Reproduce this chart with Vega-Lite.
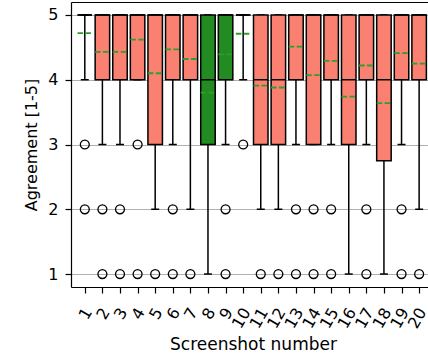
{
  "$schema": "https://vega.github.io/schema/vega-lite/v6.json",
  "width": 357,
  "height": 285,
  "autosize": {"type": "none"},
  "padding": {"left": 71, "top": 2, "right": 0, "bottom": 67},
  "config": {
    "view": {"stroke": null},
    "font": "DejaVu Sans",
    "axis": {
      "domainColor": "black",
      "domainWidth": 1.2,
      "tickColor": "black",
      "tickWidth": 1.2,
      "tickSize": 6,
      "labelColor": "black",
      "labelFont": "DejaVu Sans",
      "labelFontSize": 16,
      "labelOverlap": false,
      "labelFlush": false,
      "labelBound": false,
      "titleFont": "DejaVu Sans",
      "titleFontSize": 16,
      "titleFontWeight": "normal",
      "titleColor": "black",
      "gridColor": "#b0b0b0",
      "gridWidth": 1.2
    }
  },
  "datasets": {
    "boxes": [
      {"s": 1, "q1": 5, "q3": 5, "med": 5, "lo": 4, "hi": 5, "mean": 4.72, "grp": "other"},
      {"s": 2, "q1": 4, "q3": 5, "med": 5, "lo": 3, "hi": 5, "mean": 4.43, "grp": "other"},
      {"s": 3, "q1": 4, "q3": 5, "med": 5, "lo": 3, "hi": 5, "mean": 4.43, "grp": "other"},
      {"s": 4, "q1": 4, "q3": 5, "med": 5, "lo": 4, "hi": 5, "mean": 4.62, "grp": "other"},
      {"s": 5, "q1": 3, "q3": 5, "med": 5, "lo": 2, "hi": 5, "mean": 4.10, "grp": "other"},
      {"s": 6, "q1": 4, "q3": 5, "med": 5, "lo": 3, "hi": 5, "mean": 4.47, "grp": "other"},
      {"s": 7, "q1": 4, "q3": 5, "med": 5, "lo": 2, "hi": 5, "mean": 4.32, "grp": "other"},
      {"s": 8, "q1": 3, "q3": 5, "med": 4, "lo": 1, "hi": 5, "mean": 3.80, "grp": "green"},
      {"s": 9, "q1": 4, "q3": 5, "med": 5, "lo": 3, "hi": 5, "mean": 4.39, "grp": "green"},
      {"s": 10, "q1": 5, "q3": 5, "med": 5, "lo": 4, "hi": 5, "mean": 4.71, "grp": "other"},
      {"s": 11, "q1": 3, "q3": 5, "med": 4, "lo": 2, "hi": 5, "mean": 3.91, "grp": "other"},
      {"s": 12, "q1": 3, "q3": 5, "med": 4, "lo": 2, "hi": 5, "mean": 3.88, "grp": "other"},
      {"s": 13, "q1": 4, "q3": 5, "med": 5, "lo": 3, "hi": 5, "mean": 4.51, "grp": "other"},
      {"s": 14, "q1": 3, "q3": 5, "med": 5, "lo": 3, "hi": 5, "mean": 4.07, "grp": "other"},
      {"s": 15, "q1": 4, "q3": 5, "med": 5, "lo": 3, "hi": 5, "mean": 4.29, "grp": "other"},
      {"s": 16, "q1": 3, "q3": 5, "med": 4, "lo": 1, "hi": 5, "mean": 3.74, "grp": "other"},
      {"s": 17, "q1": 4, "q3": 5, "med": 5, "lo": 3, "hi": 5, "mean": 4.22, "grp": "other"},
      {"s": 18, "q1": 2.75, "q3": 5, "med": 4, "lo": 1, "hi": 5, "mean": 3.64, "grp": "other"},
      {"s": 19, "q1": 4, "q3": 5, "med": 5, "lo": 3, "hi": 5, "mean": 4.41, "grp": "other"},
      {"s": 20, "q1": 4, "q3": 5, "med": 5, "lo": 2, "hi": 5, "mean": 4.25, "grp": "other"}
    ],
    "outliers": [
      {"s": 1, "v": 3}, {"s": 1, "v": 2},
      {"s": 2, "v": 2}, {"s": 2, "v": 1},
      {"s": 3, "v": 2}, {"s": 3, "v": 1},
      {"s": 4, "v": 3}, {"s": 4, "v": 1},
      {"s": 5, "v": 1},
      {"s": 6, "v": 2}, {"s": 6, "v": 1},
      {"s": 7, "v": 1},
      {"s": 9, "v": 2}, {"s": 9, "v": 1},
      {"s": 10, "v": 3},
      {"s": 11, "v": 1},
      {"s": 12, "v": 1},
      {"s": 13, "v": 2}, {"s": 13, "v": 1},
      {"s": 14, "v": 2}, {"s": 14, "v": 1},
      {"s": 15, "v": 2}, {"s": 15, "v": 1},
      {"s": 17, "v": 2}, {"s": 17, "v": 1},
      {"s": 19, "v": 2}, {"s": 19, "v": 1},
      {"s": 20, "v": 1}
    ]
  },
  "layer": [
    {
      "data": {"name": "boxes"},
      "mark": {"type": "rule", "stroke": "black", "strokeWidth": 1.5, "clip": true},
      "encoding": {
        "x": {"field": "s", "type": "quantitative", "scale": {"domain": [0.5, 20.22], "nice": false, "zero": false},
              "axis": {"orient": "top", "labels": false, "ticks": false, "grid": false, "domain": true, "title": null}},
        "y": {"field": "lo", "type": "quantitative", "scale": {"domain": [0.8, 5.2], "nice": false, "zero": false},
              "axis": {"values": [1, 2, 3, 4, 5], "format": "d", "grid": true, "labelPadding": 7, "title": "Agreement [1-5]", "titlePadding": 8}},
        "y2": {"field": "q1"}
      }
    },
    {
      "data": {"name": "boxes"},
      "mark": {"type": "rule", "stroke": "black", "strokeWidth": 1.5, "xOffset": -4, "x2Offset": 4, "clip": true},
      "encoding": {
        "x": {"field": "s", "type": "quantitative",
              "axis": {"orient": "bottom", "values": [1,2,3,4,5,6,7,8,9,10,11,12,13,14,15,16,17,18,19,20], "format": "d", "grid": false,
                       "labelAngle": -60, "labelAlign": "right", "labelBaseline": "middle", "labelOffset": 3, "labelPadding": 16,
                       "title": "Screenshot number", "titleFontSize": 17, "titleX": 182, "titleY": 57, "titleBaseline": "middle"}},
        "x2": {"field": "s"},
        "y": {"field": "lo", "type": "quantitative"}
      }
    },
    {
      "data": {"name": "boxes"},
      "mark": {"type": "rule", "stroke": "black", "strokeWidth": 1.5, "xOffset": -4, "x2Offset": 4, "clip": true},
      "encoding": {
        "x": {"field": "s", "type": "quantitative", "axis": null},
        "x2": {"field": "s"},
        "y": {"field": "hi", "type": "quantitative"}
      }
    },
    {
      "data": {"name": "boxes"},
      "mark": {"type": "bar", "width": 14.5, "stroke": "black", "strokeWidth": 1.5, "clip": true},
      "encoding": {
        "x": {"field": "s", "type": "quantitative", "axis": null},
        "y": {"field": "q1", "type": "quantitative"},
        "y2": {"field": "q3"},
        "color": {"field": "grp", "type": "nominal", "scale": {"domain": ["other", "green"], "range": ["#fa8072", "#228b22"]}, "legend": null}
      }
    },
    {
      "data": {"name": "boxes"},
      "mark": {"type": "rule", "stroke": "black", "strokeWidth": 1.5, "xOffset": -7.25, "x2Offset": 7.25, "clip": true},
      "encoding": {
        "x": {"field": "s", "type": "quantitative", "axis": null},
        "x2": {"field": "s"},
        "y": {"field": "med", "type": "quantitative"}
      }
    },
    {
      "data": {"name": "boxes"},
      "mark": {"type": "rule", "stroke": "#2ca02c", "strokeWidth": 1.8, "strokeDash": [5.5, 2.4], "xOffset": -7.25, "x2Offset": 7.25, "clip": true},
      "encoding": {
        "x": {"field": "s", "type": "quantitative", "axis": null},
        "x2": {"field": "s"},
        "y": {"field": "mean", "type": "quantitative"}
      }
    },
    {
      "data": {"name": "outliers"},
      "mark": {"type": "point", "shape": "circle", "filled": false, "stroke": "black", "strokeWidth": 1.3, "size": 80, "opacity": 1, "clip": true},
      "encoding": {
        "x": {"field": "s", "type": "quantitative", "axis": null},
        "y": {"field": "v", "type": "quantitative"}
      }
    }
  ],
  "resolve": {"axis": {"x": "independent"}}
}
